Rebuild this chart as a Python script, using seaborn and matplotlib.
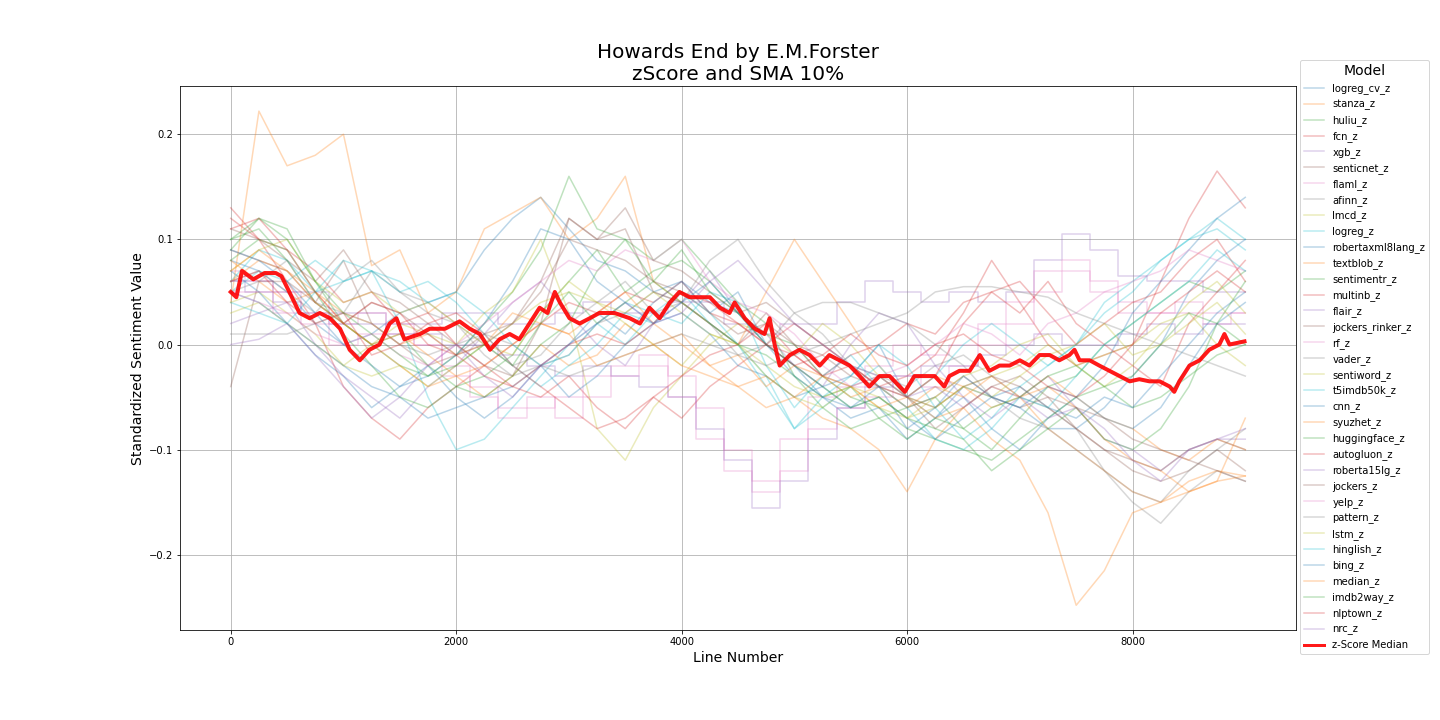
import matplotlib
matplotlib.use("Agg")
import matplotlib.pyplot as plt
import seaborn as sns
import pandas as pd

# sample positions (line numbers) for the model curves
line_no = [0, 250, 500, 750, 1000, 1250, 1500, 1750, 2000, 2250, 2500, 2750, 3000,
           3250, 3500, 3750, 4000, 4250, 4500, 4750, 5000, 5250, 5500, 5750, 6000,
           6250, 6500, 6750, 7000, 7250, 7500, 7750, 8000, 8250, 8500, 8750, 9000]

# SMA 10% z-scores per model
logreg_cv_z = [0.08,0.07,0.05,0.02,0.0,0.01,0.03,0.04,0.05,0.09,0.12,0.14,0.11,0.08,0.07,0.05,0.06,0.04,0.03,0.0,-0.02,-0.04,-0.03,0.0,-0.05,-0.07,-0.04,-0.05,-0.06,-0.08,-0.08,-0.06,-0.03,0.0,0.05,0.08,0.1]
stanza_z = [0.04,0.222,0.17,0.18,0.2,0.075,0.09,0.03,0.05,0.11,0.125,0.14,0.1,0.12,0.16,0.06,0.04,0.02,0.0,0.05,0.1,0.06,0.02,-0.02,-0.05,-0.03,-0.04,-0.06,-0.05,-0.03,-0.05,-0.07,-0.08,-0.1,-0.11,-0.09,-0.1]
huliu_z = [0.09,0.12,0.11,0.06,0.02,0.0,-0.02,-0.03,-0.01,0.02,0.05,0.09,0.16,0.11,0.1,0.08,0.1,0.07,0.04,0.02,-0.03,-0.05,-0.04,-0.07,-0.06,-0.05,-0.08,-0.1,-0.07,-0.04,-0.03,0.0,0.02,0.04,0.06,0.05,0.07]
fcn_z = [0.13,0.1,0.06,0.02,-0.04,-0.07,-0.09,-0.06,-0.04,-0.02,0.0,0.02,0.04,0.03,0.05,0.04,0.06,0.03,0.02,0.0,0.02,0.0,-0.02,-0.04,-0.03,-0.01,0.03,0.08,0.04,0.0,-0.02,-0.01,0.0,0.06,0.12,0.165,0.13]
xgb_z = [0.06,0.06,0.05,0.05,0.03,0.03,0.02,0.02,0.03,0.03,0.02,0.02,0.03,0.04,0.03,0.03,0.04,0.04,0.02,0.01,0.02,0.02,0.04,0.06,0.05,0.04,0.05,0.04,0.05,0.08,0.105,0.09,0.065,0.06,0.06,0.05,0.05]
senticnet_z = [0.11,0.1,0.08,0.06,0.09,0.05,0.04,0.02,0.0,-0.02,-0.03,0.02,0.12,0.1,0.13,0.08,0.07,0.05,0.03,0.04,0.02,0.0,-0.02,-0.04,-0.06,-0.05,-0.03,-0.05,-0.06,-0.05,-0.08,-0.1,-0.12,-0.13,-0.12,-0.1,-0.12]
flaml_z = [0.07,0.06,0.05,0.03,0.02,0.03,0.01,0.0,-0.02,-0.04,-0.06,-0.05,-0.07,-0.05,-0.03,-0.02,-0.05,-0.09,-0.12,-0.13,-0.09,-0.05,-0.04,-0.02,0.0,-0.01,0.0,0.02,0.04,0.07,0.08,0.06,0.03,0.03,0.04,0.02,0.03]
afinn_z = [0.06,0.07,0.05,0.03,0.06,0.08,0.05,0.03,0.02,-0.01,-0.03,-0.02,-0.01,0.02,0.03,0.05,0.04,0.08,0.1,0.06,0.03,0.01,-0.02,-0.03,-0.04,-0.02,-0.01,-0.03,-0.05,-0.06,-0.08,-0.12,-0.15,-0.17,-0.14,-0.12,-0.13]
lmcd_z = [0.04,0.05,0.03,0.01,-0.02,0.0,0.02,0.01,0.0,0.03,0.05,0.1,0.03,-0.08,-0.11,-0.06,-0.03,0.0,0.02,0.01,-0.01,0.02,0.0,-0.03,-0.05,-0.06,-0.04,-0.03,-0.02,0.0,-0.02,-0.01,0.0,0.02,0.03,0.0,-0.02]
logreg_z = [0.06,0.09,0.08,0.05,0.06,0.07,0.02,-0.05,-0.1,-0.09,-0.06,-0.03,0.0,0.02,0.04,0.03,0.05,0.02,0.0,-0.03,-0.08,-0.06,-0.04,-0.02,-0.05,-0.03,0.0,0.02,0.0,-0.02,0.0,0.04,0.06,0.08,0.1,0.12,0.1]
robertaxml8lang_z = [0.07,0.05,0.02,-0.01,-0.03,-0.06,-0.04,-0.02,-0.05,-0.07,-0.05,-0.02,0.0,0.03,0.01,0.04,0.06,0.03,0.05,0.0,-0.02,-0.05,-0.07,-0.06,-0.09,-0.07,-0.05,-0.08,-0.1,-0.07,-0.05,-0.02,0.03,0.06,0.09,0.12,0.14]
textblob_z = [0.08,0.06,0.04,0.05,0.02,0.0,-0.02,-0.04,-0.03,-0.05,-0.03,0.0,-0.02,-0.01,0.02,0.0,0.01,-0.02,-0.04,-0.03,-0.05,-0.07,-0.08,-0.1,-0.14,-0.09,-0.06,-0.04,-0.05,-0.08,-0.1,-0.12,-0.14,-0.15,-0.13,-0.12,-0.125]
sentimentr_z = [0.1,0.11,0.08,0.04,0.02,0.0,0.01,-0.02,-0.04,-0.03,-0.01,0.03,0.06,0.09,0.05,0.07,0.08,0.06,0.03,0.01,0.0,-0.03,-0.05,-0.06,-0.08,-0.09,-0.1,-0.11,-0.09,-0.07,-0.05,-0.04,-0.06,-0.05,-0.03,-0.01,0.0]
multinb_z = [0.12,0.1,0.09,0.07,0.04,0.05,0.02,0.03,0.0,-0.02,-0.04,-0.05,-0.03,-0.06,-0.08,-0.05,-0.07,-0.04,-0.02,0.0,-0.01,-0.03,-0.01,0.0,0.02,0.01,0.04,0.05,0.03,0.06,0.02,0.0,-0.02,-0.04,0.02,0.05,0.08]
flair_z = [0.02,0.03,0.04,0.0,-0.03,-0.05,-0.07,-0.04,-0.02,0.01,0.04,0.06,0.03,0.0,-0.02,0.02,0.04,0.07,0.03,0.01,-0.02,-0.04,0.0,0.03,0.02,-0.02,-0.05,-0.07,-0.05,-0.03,-0.06,-0.09,-0.1,-0.12,-0.1,-0.09,-0.09]
jockers_rinker_z = [-0.04,0.06,0.06,0.04,0.08,0.02,0.0,-0.02,-0.01,0.01,0.02,0.06,0.12,0.1,0.11,0.05,0.04,0.02,0.0,0.03,0.0,-0.03,-0.04,-0.03,-0.05,-0.08,-0.06,-0.04,-0.03,-0.05,-0.06,-0.07,-0.09,-0.1,-0.11,-0.12,-0.13]
rf_z = [0.05,0.05,0.03,0.02,0.0,0.01,0.02,0.0,-0.03,-0.05,-0.07,-0.06,-0.05,-0.03,-0.02,-0.01,-0.03,-0.06,-0.1,-0.14,-0.12,-0.08,-0.06,-0.05,-0.03,-0.04,-0.02,0.0,0.02,0.05,0.07,0.05,0.04,0.03,0.03,0.03,0.03]
vader_z = [0.05,0.06,0.08,0.04,0.03,0.07,0.05,0.04,0.02,0.0,-0.02,-0.01,0.02,0.04,0.06,0.03,0.04,0.02,-0.01,0.0,0.03,0.04,0.04,0.03,0.02,0.0,-0.02,-0.05,-0.07,-0.08,-0.1,-0.12,-0.14,-0.15,-0.12,-0.1,-0.08]
sentiword_z = [0.03,0.04,0.02,0.0,-0.02,-0.03,-0.02,-0.04,-0.02,0.0,0.02,0.04,0.05,0.04,0.03,0.05,0.03,0.01,0.0,-0.02,-0.04,-0.05,-0.04,-0.06,-0.07,-0.05,-0.03,-0.02,0.0,0.01,-0.02,-0.04,-0.02,0.01,0.04,0.06,0.03]
t5imdb50k_z = [0.05,0.07,0.06,0.08,0.06,0.07,0.05,0.06,0.04,0.01,-0.02,-0.04,-0.02,0.0,0.03,0.02,0.05,0.03,0.0,-0.04,-0.08,-0.05,-0.03,0.0,-0.02,-0.06,-0.09,-0.07,-0.04,-0.02,0.0,0.03,0.05,0.08,0.1,0.11,0.09]
cnn_z = [0.05,0.04,0.02,0.0,-0.02,-0.04,-0.05,-0.07,-0.06,-0.05,-0.04,-0.02,-0.05,-0.03,0.0,0.02,0.03,0.01,-0.02,-0.03,-0.05,-0.04,-0.06,-0.05,-0.07,-0.09,-0.07,-0.05,-0.04,-0.06,-0.07,-0.05,-0.06,-0.03,0.0,0.03,0.05]
syuzhet_z = [0.06,0.08,0.07,0.05,0.03,0.02,0.0,0.01,-0.01,0.0,0.03,0.02,0.01,0.03,0.05,0.02,0.0,-0.02,-0.01,-0.04,-0.02,-0.03,-0.05,-0.04,-0.06,-0.04,-0.05,-0.03,-0.05,-0.04,-0.06,-0.09,-0.11,-0.12,-0.14,-0.13,-0.07]
huggingface_z = [0.08,0.1,0.09,0.05,0.01,-0.02,-0.05,-0.06,-0.04,-0.05,-0.03,0.0,0.02,0.07,0.1,0.06,0.04,0.02,0.0,-0.01,-0.03,-0.06,-0.08,-0.07,-0.09,-0.07,-0.08,-0.06,-0.05,-0.03,-0.02,-0.04,-0.03,0.0,0.03,0.02,0.0]
autogluon_z = [0.06,0.07,0.04,0.02,0.03,-0.01,0.0,0.02,0.03,0.01,-0.02,-0.04,-0.06,-0.08,-0.07,-0.05,-0.03,-0.01,0.0,0.02,-0.01,-0.03,-0.02,-0.04,-0.05,-0.03,0.02,0.05,0.06,0.03,0.0,0.02,0.04,0.05,0.08,0.1,0.06]
roberta15lg_z = [0.06,0.05,0.04,0.03,0.02,0.02,0.01,0.01,0.0,0.0,-0.01,-0.02,-0.03,-0.02,-0.03,-0.04,-0.05,-0.08,-0.11,-0.155,-0.13,-0.09,-0.06,-0.04,-0.03,-0.02,-0.02,-0.01,0.0,0.01,0.0,0.0,0.01,0.02,0.01,0.02,0.02]
jockers_z = [0.09,0.08,0.07,0.04,0.02,0.04,0.03,0.01,-0.01,0.0,0.02,0.05,0.1,0.09,0.08,0.06,0.05,0.03,0.01,0.02,0.0,-0.01,-0.03,-0.04,-0.05,-0.06,-0.04,-0.03,-0.04,-0.06,-0.08,-0.1,-0.11,-0.12,-0.1,-0.09,-0.1]
yelp_z = [0.05,0.04,0.03,0.01,0.0,0.01,-0.01,-0.02,0.0,0.02,0.04,0.06,0.08,0.07,0.09,0.08,0.1,0.06,0.04,0.03,0.01,-0.02,-0.04,-0.03,-0.02,0.0,0.02,0.01,-0.01,0.02,0.03,0.05,0.06,0.07,0.09,0.08,0.07]
pattern_z = [0.01,0.01,0.01,0.02,0.03,0.02,0.0,-0.01,0.0,0.01,0.0,-0.02,-0.03,-0.02,-0.01,0.0,0.01,0.0,-0.01,-0.02,-0.01,0.0,0.01,0.02,0.03,0.05,0.055,0.055,0.05,0.045,0.03,0.02,0.01,0.0,-0.01,-0.02,-0.03]
lstm_z = [0.07,0.09,0.1,0.06,0.04,0.05,0.03,0.04,0.02,0.0,-0.01,0.03,0.06,0.04,0.02,0.0,-0.02,0.01,0.0,-0.03,-0.05,-0.06,-0.04,-0.05,-0.07,-0.06,-0.04,-0.05,-0.03,-0.01,0.0,0.02,-0.01,0.0,0.02,0.04,0.01]
hinglish_z = [0.04,0.03,0.02,0.05,0.08,0.07,0.06,0.04,0.05,0.03,0.0,-0.02,-0.01,0.02,0.0,0.03,0.02,0.05,0.04,-0.02,-0.06,-0.03,-0.01,-0.04,-0.06,-0.09,-0.1,-0.08,-0.05,-0.06,-0.03,0.0,0.02,0.04,0.06,0.09,0.07]
bing_z = [0.09,0.08,0.06,0.03,0.0,-0.02,-0.04,-0.03,-0.01,0.02,0.06,0.11,0.1,0.06,0.04,0.02,0.04,0.06,0.03,0.0,-0.03,-0.05,-0.06,-0.04,-0.08,-0.06,-0.03,-0.05,-0.06,-0.04,-0.05,-0.07,-0.08,-0.06,-0.02,0.02,0.04]
median_z = [0.07,0.09,0.07,0.04,0.02,0.0,0.01,-0.01,-0.03,-0.02,0.0,0.02,0.01,-0.02,-0.01,0.0,-0.02,-0.03,-0.04,-0.06,-0.05,-0.03,-0.04,-0.06,-0.05,-0.07,-0.06,-0.09,-0.11,-0.16,-0.248,-0.215,-0.16,-0.15,-0.14,-0.13,-0.125]
imdb2way_z = [0.1,0.12,0.1,0.06,0.03,0.01,-0.01,-0.03,-0.02,0.0,-0.02,0.02,0.05,0.02,0.04,0.06,0.09,0.05,0.03,0.0,-0.02,-0.04,-0.06,-0.05,-0.07,-0.08,-0.09,-0.12,-0.1,-0.08,-0.06,-0.09,-0.1,-0.08,-0.04,0.02,0.06]
nlptown_z = [0.11,0.12,0.09,0.05,0.02,0.04,0.03,0.0,-0.01,-0.03,-0.04,-0.02,0.0,0.01,0.0,0.02,0.05,0.04,0.02,0.0,-0.02,-0.01,0.01,-0.01,-0.02,0.0,0.01,-0.01,-0.02,-0.04,-0.05,-0.03,0.0,0.03,0.05,0.07,0.05]
nrc_z = [0.0,0.005,0.02,-0.01,-0.04,-0.07,-0.05,-0.02,0.0,-0.03,-0.05,-0.02,0.0,0.02,0.04,0.02,0.03,0.06,0.08,0.05,0.02,0.0,-0.02,-0.03,-0.05,-0.04,-0.06,-0.04,-0.05,-0.07,-0.06,-0.08,-0.11,-0.13,-0.1,-0.09,-0.08]

# median of all model z-scores
median_x = [0,50,100,200,300,400,450,520,610,700,790,880,970,1055,1145,1230,1320,1410,1470,1540,
            1680,1765,1900,2030,2120,2210,2300,2385,2475,2560,2650,2740,2810,2875,2920,3005,3095,
            3185,3270,3405,3540,3630,3715,3805,3895,3980,4070,4160,4250,4340,4425,4470,4560,4650,
            4735,4780,4825,4870,4960,5045,5135,5225,5310,5400,5490,5580,5665,5755,5845,5935,5980,
            6065,6155,6245,6330,6375,6465,6555,6645,6730,6820,6910,7000,7085,7175,7265,7350,7440,
            7485,7530,7620,7705,7795,7885,7975,8060,8150,8240,8330,8370,8415,8505,8595,8680,8770,
            8815,8860,8993]
median_y = [0.05,0.045,0.07,0.062,0.068,0.068,0.065,0.05,0.03,0.025,0.03,0.025,0.015,-0.005,-0.015,
            -0.005,0.0,0.02,0.025,0.005,0.01,0.015,0.015,0.022,0.015,0.01,-0.005,0.005,0.01,0.005,
            0.02,0.035,0.03,0.05,0.04,0.025,0.02,0.025,0.03,0.03,0.025,0.02,0.035,0.025,0.04,0.05,
            0.045,0.045,0.045,0.035,0.03,0.04,0.025,0.015,0.01,0.025,0.0,-0.02,-0.01,-0.005,-0.01,
            -0.02,-0.01,-0.015,-0.02,-0.03,-0.04,-0.03,-0.03,-0.04,-0.045,-0.03,-0.03,-0.03,-0.04,
            -0.03,-0.025,-0.025,-0.01,-0.025,-0.02,-0.02,-0.015,-0.02,-0.01,-0.01,-0.015,-0.01,
            -0.005,-0.015,-0.015,-0.02,-0.025,-0.03,-0.035,-0.033,-0.035,-0.035,-0.04,-0.045,-0.035,
            -0.02,-0.015,-0.005,0.0,0.01,0.0,0.003]

models = {
    "logreg_cv_z": logreg_cv_z, "stanza_z": stanza_z, "huliu_z": huliu_z, "fcn_z": fcn_z,
    "xgb_z": xgb_z, "senticnet_z": senticnet_z, "flaml_z": flaml_z, "afinn_z": afinn_z,
    "lmcd_z": lmcd_z, "logreg_z": logreg_z, "robertaxml8lang_z": robertaxml8lang_z,
    "textblob_z": textblob_z, "sentimentr_z": sentimentr_z, "multinb_z": multinb_z,
    "flair_z": flair_z, "jockers_rinker_z": jockers_rinker_z, "rf_z": rf_z, "vader_z": vader_z,
    "sentiword_z": sentiword_z, "t5imdb50k_z": t5imdb50k_z, "cnn_z": cnn_z,
    "syuzhet_z": syuzhet_z, "huggingface_z": huggingface_z, "autogluon_z": autogluon_z,
    "roberta15lg_z": roberta15lg_z, "jockers_z": jockers_z, "yelp_z": yelp_z,
    "pattern_z": pattern_z, "lstm_z": lstm_z, "hinglish_z": hinglish_z, "bing_z": bing_z,
    "median_z": median_z, "imdb2way_z": imdb2way_z, "nlptown_z": nlptown_z, "nrc_z": nrc_z,
}
# tree based models give plateau-like curves
stepped = ["xgb_z", "flaml_z", "rf_z", "roberta15lg_z"]

palette = sns.color_palette("tab10")

fig, ax = plt.subplots(figsize=(20, 10), dpi=72)
fig.subplots_adjust(left=0.125, right=0.9, bottom=0.125, top=0.88)

for i, (name, vals) in enumerate(models.items()):
    df = pd.DataFrame({"line": line_no, "z": vals})
    sns.lineplot(data=df, x="line", y="z", ax=ax, color=palette[i % 10], alpha=0.3,
                 linewidth=1.5, label=name,
                 drawstyle="steps-mid" if name in stepped else "default")

med_df = pd.DataFrame({"line": median_x, "z": median_y})
sns.lineplot(data=med_df, x="line", y="z", ax=ax, color="red", alpha=0.9, linewidth=4,
             label="z-Score Median")

ax.grid(True)
ax.set_title("Howards End by E.M.Forster\nzScore and SMA 10%", fontsize=20)
ax.set_xlabel("Line Number", fontsize=14)
ax.set_ylabel("Standardized Sentiment Value", fontsize=14)
leg = ax.legend(title="Model", loc="upper left", bbox_to_anchor=(1.004, 1.048),
                borderaxespad=0, fontsize=10, title_fontsize=14)
for h in leg.get_lines()[-1:]:
    h.set_linewidth(3)

plt.savefig("out.png", dpi=72)
